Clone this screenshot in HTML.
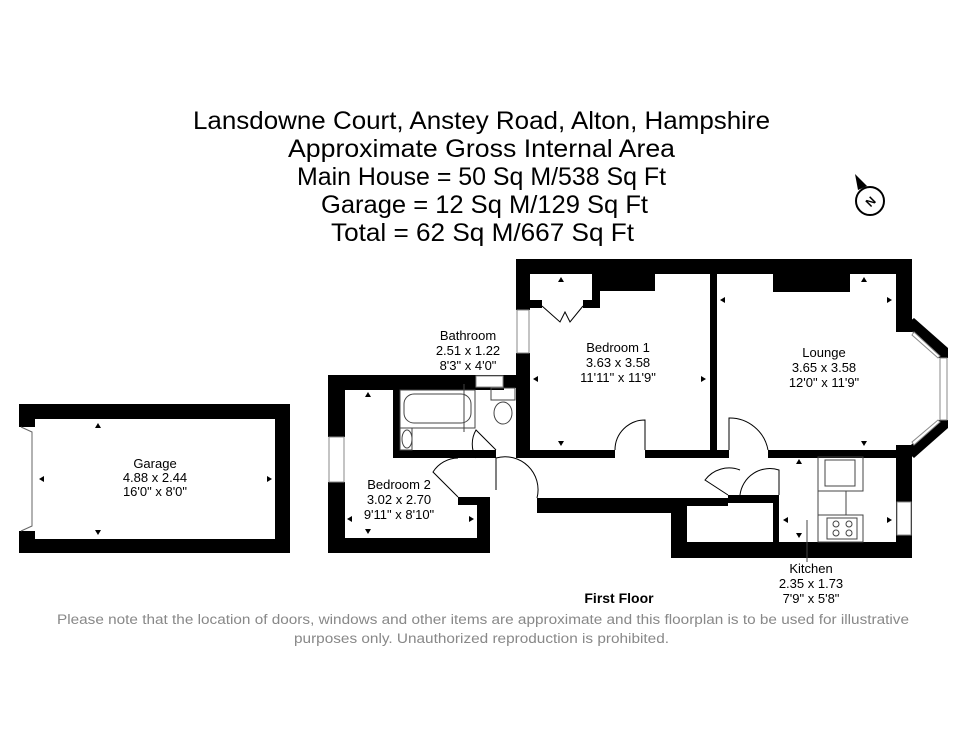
<!DOCTYPE html>
<html><head><meta charset="utf-8"><style>
html,body{margin:0;padding:0;background:#fff;}
svg{display:block;}
text{font-family:"Liberation Sans",sans-serif;}
</style></head><body>
<svg width="970" height="750" viewBox="0 0 970 750" xmlns="http://www.w3.org/2000/svg">
<rect width="970" height="750" fill="#fff"/>
<g font-size="25" fill="#000">
<text x="193" y="129" textLength="577" lengthAdjust="spacingAndGlyphs">Lansdowne Court, Anstey Road, Alton, Hampshire</text>
<text x="288" y="157" textLength="387" lengthAdjust="spacingAndGlyphs">Approximate Gross Internal Area</text>
<text x="297" y="185" textLength="369" lengthAdjust="spacingAndGlyphs">Main House = 50 Sq M/538 Sq Ft</text>
<text x="321" y="213" textLength="327" lengthAdjust="spacingAndGlyphs">Garage = 12 Sq M/129 Sq Ft</text>
<text x="331" y="241" textLength="303" lengthAdjust="spacingAndGlyphs">Total = 62 Sq M/667 Sq Ft</text>
</g>
<!-- compass -->
<circle cx="870" cy="201" r="14" fill="none" stroke="#000" stroke-width="2"/>
<polygon points="855,174 867,186 858,190" fill="#000"/>
<text x="870" y="206" font-size="12" font-weight="bold" text-anchor="middle" transform="rotate(-45 870 201)">N</text>

<!-- Garage -->
<rect x="19" y="404" width="271" height="149" fill="#000"/>
<rect x="35" y="419" width="240" height="120" fill="#fff"/>
<rect x="19" y="427" width="17" height="104" fill="#fff"/>
<polyline points="21,427 32,432 32,526 21,531" fill="none" stroke="#666" stroke-width="1"/>
<g font-size="13" text-anchor="middle">
<text x="155" y="468">Garage</text>
<text x="155" y="482">4.88 x 2.44</text>
<text x="155" y="496">16'0" x 8'0"</text>
</g>
<g fill="#000">
<polygon points="98,423 101,428 95,428"/><polygon points="98,535 101,530 95,530"/>
<polygon points="39,479 44,476 44,482"/><polygon points="272,479 267,476 267,482"/>
</g>

<g fill="#000">
<rect x="516" y="259" width="396" height="15"/>
<rect x="516" y="259" width="14" height="51"/>
<rect x="516" y="353" width="14" height="105"/>
<rect x="592" y="274" width="63" height="17"/>
<rect x="592" y="274" width="8" height="34"/>
<rect x="530" y="300" width="12" height="8"/>
<rect x="583" y="300" width="17" height="8"/>
<rect x="710" y="274" width="7" height="184"/>
<rect x="773" y="274" width="77" height="18"/>
<rect x="896" y="259" width="16" height="73"/>
<rect x="896" y="445" width="16" height="113"/>
<polygon points="905,325 914,318 948,348 938,356"/>
<polygon points="938,348 948,348 948,358 938,358"/>
<polygon points="938,420 948,420 948,428 938,428"/>
<polygon points="938,422 948,428 914,458 905,450"/>
<rect x="520" y="450" width="95" height="8"/>
<rect x="645" y="450" width="84" height="8"/>
<rect x="768" y="450" width="143" height="8"/>
<rect x="671" y="542" width="241" height="16"/>
<rect x="671" y="502" width="16" height="56"/>
<rect x="671" y="498" width="57" height="8"/>
<rect x="728" y="495" width="51" height="8"/>
<rect x="773" y="495" width="6" height="47"/>
<rect x="537" y="498" width="134" height="15"/>
<rect x="328" y="375" width="176" height="15"/>
<rect x="328" y="375" width="17" height="62"/>
<rect x="328" y="482" width="17" height="71"/>
<rect x="328" y="538" width="162" height="15"/>
<rect x="477" y="503" width="13" height="50"/>
<rect x="458" y="497" width="32" height="8"/>
<rect x="393" y="390" width="7" height="68"/>
<rect x="393" y="450" width="103" height="8"/>
<rect x="504" y="375" width="14" height="13"/>
<rect x="516" y="360" width="14" height="30"/>
</g>
<g fill="#fff" stroke="#888" stroke-width="1">
<rect x="517" y="310" width="12" height="43"/>
<rect x="329" y="437" width="15" height="45"/>
<rect x="476" y="376" width="27" height="11"/>
<rect x="897" y="502" width="14" height="33"/>
<rect x="940" y="358" width="7" height="62"/>
<polygon points="914,332 940,356 938,358 912,335"/>
<polygon points="912,442 938,420 940,422 914,445"/>
</g>
<g fill="none" stroke="#000" stroke-width="1">
<path d="M615,450 A30,30 0 0 1 645,420 L645,450"/>
<path d="M729,450 L729,418 A39,39 0 0 1 768,450"/>
<path d="M496,458 L496,490 M496,458 A33,33 0 0 1 537,498"/>
<path d="M458,497 L433,472 A30,30 0 0 1 458,458"/>
<path d="M496,450 L476,430 A28,28 0 0 0 476,458"/>
<path d="M728,495 L705,480 A30,30 0 0 1 740,470"/>
<path d="M779,495 L779,470 A30,30 0 0 0 740,495"/>
<path d="M542,306 L560,322 L565,312 L570,322 L583,306"/>
</g>
<g fill="none" stroke="#444" stroke-width="1">
<rect x="400" y="390" width="75" height="38"/>
<rect x="404" y="394" width="67" height="29" rx="10"/>
<rect x="400" y="428" width="12" height="22"/>
<ellipse cx="407" cy="439" rx="5" ry="9"/>
<rect x="491" y="388" width="24" height="12"/>
<ellipse cx="503" cy="413" rx="9" ry="11"/>
<rect x="818" y="457" width="45" height="34"/>
<rect x="825" y="460" width="30" height="26"/>
<rect x="818" y="491" width="28" height="24"/>
<rect x="818" y="515" width="45" height="27"/>
<rect x="827" y="518" width="30" height="21"/>
<circle cx="836" cy="524" r="3"/><circle cx="849" cy="524" r="3"/>
<circle cx="836" cy="533" r="3"/><circle cx="849" cy="533" r="3"/>
<line x1="464" y1="384" x2="464" y2="432"/>
<line x1="807" y1="520" x2="807" y2="562"/>
</g>
<g fill="#000">
<polygon points="561,277 564,282 558,282"/><polygon points="561,446 564,441 558,441"/>
<polygon points="533,379 538,376 538,382"/><polygon points="706,379 701,376 701,382"/>
<polygon points="864,277 867,282 861,282"/><polygon points="864,446 867,441 861,441"/>
<polygon points="720,300 725,297 725,303"/><polygon points="892,300 887,297 887,303"/>
<polygon points="368,392 371,397 365,397"/><polygon points="368,534 371,529 365,529"/>
<polygon points="347,519 352,516 352,522"/><polygon points="474,519 469,516 469,522"/>
<polygon points="799,459 802,464 796,464"/><polygon points="799,538 802,533 796,533"/>
<polygon points="783,520 788,517 788,523"/><polygon points="892,520 887,517 887,523"/>
</g>
<g font-size="13" text-anchor="middle">
<text x="468" y="340">Bathroom</text>
<text x="468" y="355">2.51 x 1.22</text>
<text x="468" y="370">8'3" x 4'0"</text>
<text x="618" y="352">Bedroom 1</text>
<text x="618" y="367">3.63 x 3.58</text>
<text x="618" y="382">11'11" x 11'9"</text>
<text x="824" y="357">Lounge</text>
<text x="824" y="372">3.65 x 3.58</text>
<text x="824" y="387">12'0" x 11'9"</text>
<text x="399" y="489">Bedroom 2</text>
<text x="399" y="504">3.02 x 2.70</text>
<text x="399" y="519">9'11" x 8'10"</text>
<text x="811" y="573">Kitchen</text>
<text x="811" y="588">2.35 x 1.73</text>
<text x="811" y="603">7'9" x 5'8"</text>
</g>
<text x="619" y="603" font-size="14" font-weight="bold" text-anchor="middle">First Floor</text>
<g font-size="13.5" fill="#888">
<text x="57" y="624" textLength="852" lengthAdjust="spacingAndGlyphs">Please note that the location of doors, windows and other items are approximate and this floorplan is to be used for illustrative</text>
<text x="294" y="643" textLength="375" lengthAdjust="spacingAndGlyphs">purposes only. Unauthorized reproduction is prohibited.</text>
</g>
</svg>
</body></html>
